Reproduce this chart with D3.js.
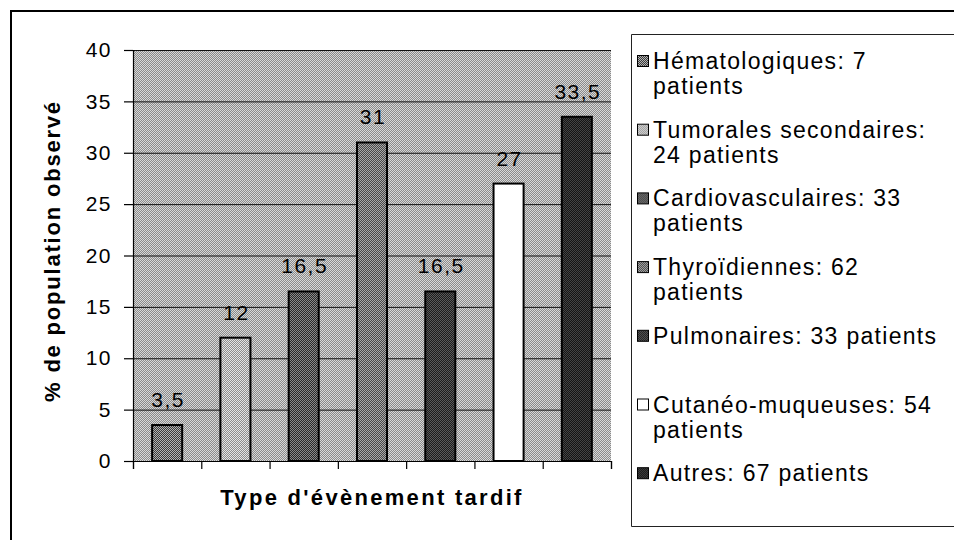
<!DOCTYPE html>
<html>
<head>
<meta charset="utf-8">
<script src="https://cdn.jsdelivr.net/npm/d3@7"></script>
<style>
  body { margin: 0; background: #fff; overflow: hidden; }
  text { font-family: Arial, "Liberation Sans", sans-serif; fill: #000; }
</style>
</head>
<body>
<div class="chart"></div>
<script>
const svgWidth = 954
const svgHeight = 540

// data
const categories = ["Hématologiques", "Tumorales secondaires", "Cardiovasculaires",
  "Thyroïdiennes", "Pulmonaires", "Cutanéo-muqueuses", "Autres"]
const values = [3.5, 12, 16.5, 31, 16.5, 27, 33.5]
const legendLines = [
  ["Hématologiques: 7", "patients"],
  ["Tumorales secondaires:", "24 patients"],
  ["Cardiovasculaires: 33", "patients"],
  ["Thyroïdiennes: 62", "patients"],
  ["Pulmonaires: 33 patients"],
  ["Cutanéo-muqueuses: 54", "patients"],
  ["Autres: 67 patients"]
]
const yTicks = [0, 5, 10, 15, 20, 25, 30, 35, 40]

// dither look: [dark pixel, light pixel] for every bar
const shades = [
  ["#3c3c3c", "#b4b4b4"],
  ["#8c8c8c", "#e4e4e4"],
  ["#2a2a2a", "#8a8a8a"],
  ["#484848", "#a8a8a8"],
  ["#1c1c1c", "#5a5a5a"],
  ["#fff", "#fff"],
  ["#141414", "#444"]
]

let margin = { top: 50, left: 133 }
let width = 611 - 133
let height = 461 - 50

let svg = d3.select(".chart")
  .append("svg")
  .attr("width", svgWidth)
  .attr("height", svgHeight)
  .style("display", "block")

let defs = svg.append("defs")

function checker(id, dark, light) {
  let p = defs.append("pattern")
    .attr("id", id)
    .attr("patternUnits", "userSpaceOnUse")
    .attr("width", 2)
    .attr("height", 2)
  p.append("rect").attr("width", 2).attr("height", 2).attr("fill", light)
  p.append("rect").attr("width", 1).attr("height", 1).attr("fill", dark)
  p.append("rect").attr("x", 1).attr("y", 1).attr("width", 1).attr("height", 1).attr("fill", dark)
}

checker("bg", "#8a8a8a", "#d8d8d8")
shades.forEach((s, i) => checker("fill" + i, s[0], s[1]))

// outer frame (only left and top show)
svg.append("path")
  .attr("d", `M11,${svgHeight + 5}V11H${svgWidth + 5}`)
  .attr("fill", "none")
  .attr("stroke", "#000")
  .attr("stroke-width", 2)

let chartGroup = svg.append("g")
  .attr("transform", `translate(${margin.left}, ${margin.top})`)

let x = d3.scaleBand()
  .domain(categories)
  .range([0, width])
  .paddingInner(0.56)
  .paddingOuter(0.28)

let xEdges = d3.scaleLinear().domain([0, categories.length]).range([0, width])

let y = d3.scaleLinear().domain([0, 40]).range([height, 0])

chartGroup.append("rect")
  .attr("width", width)
  .attr("height", height)
  .attr("fill", "url(#bg)")

// gridlines
chartGroup.append("g")
  .call(d3.axisLeft(y).tickValues(yTicks.slice(1)).tickSize(-width).tickFormat(""))
  .call(g => g.select(".domain").remove())
  .call(g => g.selectAll("line").attr("stroke", "#111").attr("stroke-width", 1))

chartGroup.selectAll(".bar")
  .data(values)
  .enter()
  .append("rect")
  .classed("bar", true)
  .attr("x", (d, i) => x(categories[i]))
  .attr("y", d => y(d))
  .attr("width", x.bandwidth())
  .attr("height", d => height - y(d))
  .attr("fill", (d, i) => `url(#fill${i})`)
  .attr("stroke", "#000")
  .attr("stroke-width", 2)

chartGroup.selectAll(".valueText")
  .data(values)
  .enter()
  .append("text")
  .classed("valueText", true)
  .attr("x", (d, i) => x(categories[i]) + x.bandwidth() / 2 + 1)
  .attr("y", d => y(d) - 18)
  .attr("text-anchor", "middle")
  .attr("font-size", "21px")
  .attr("letter-spacing", "1.5px")
  .text(d => String(d).replace(".", ","))

// axes
let yAxis = chartGroup.append("g")
  .call(d3.axisLeft(y).tickValues(yTicks).tickSize(9).tickPadding(12))
yAxis.selectAll("text")
  .attr("font-size", "21px")
  .attr("letter-spacing", "1.5px")
  .attr("font-family", "Arial, 'Liberation Sans', sans-serif")
yAxis.selectAll("line, path").attr("stroke", "#000").attr("stroke-width", 1.2)

let xAxis = chartGroup.append("g")
  .attr("transform", `translate(0, ${height})`)
  .call(d3.axisBottom(xEdges).tickValues(d3.range(categories.length + 1)).tickSize(8).tickFormat(""))
xAxis.selectAll("line, path").attr("stroke", "#000").attr("stroke-width", 1.2)

// axis titles
chartGroup.append("text")
  .attr("x", 372 - margin.left)
  .attr("y", height + 44)
  .attr("text-anchor", "middle")
  .attr("font-size", "22px")
  .attr("font-weight", "bold")
  .attr("letter-spacing", "2.3px")
  .text("Type d'évènement tardif")

svg.append("text")
  .attr("transform", "translate(60, 251) rotate(-90)")
  .attr("text-anchor", "middle")
  .attr("font-size", "22px")
  .attr("font-weight", "bold")
  .attr("letter-spacing", "1.8px")
  .text("% de population observé")

// legend box: left, top and bottom edges, the right one is off the page
let legend = svg.append("g")

legend.append("path")
  .attr("d", `M${svgWidth + 5},34.5H631.5V526.5H${svgWidth + 5}`)
  .attr("fill", "#fff")
  .attr("stroke", "#222")
  .attr("stroke-width", 1)

let items = legend.selectAll(".item")
  .data(legendLines)
  .enter()
  .append("g")
  .attr("transform", (d, i) => `translate(0, ${69 + i * 68.7})`)

items.append("rect")
  .attr("x", 637.5).attr("y", -13.5)
  .attr("width", 11).attr("height", 11)
  .attr("fill", (d, i) => `url(#fill${i})`)
  .attr("stroke", "#000")
  .attr("stroke-width", 1)

items.each(function(lines) {
  let t = d3.select(this).append("text")
    .attr("x", 653)
    .attr("font-size", "23px")
    .attr("letter-spacing", "1.3px")
  lines.forEach((l, j) => {
    t.append("tspan").attr("x", 653).attr("y", j * 25).text(l)
  })
})
</script>
</body>
</html>
